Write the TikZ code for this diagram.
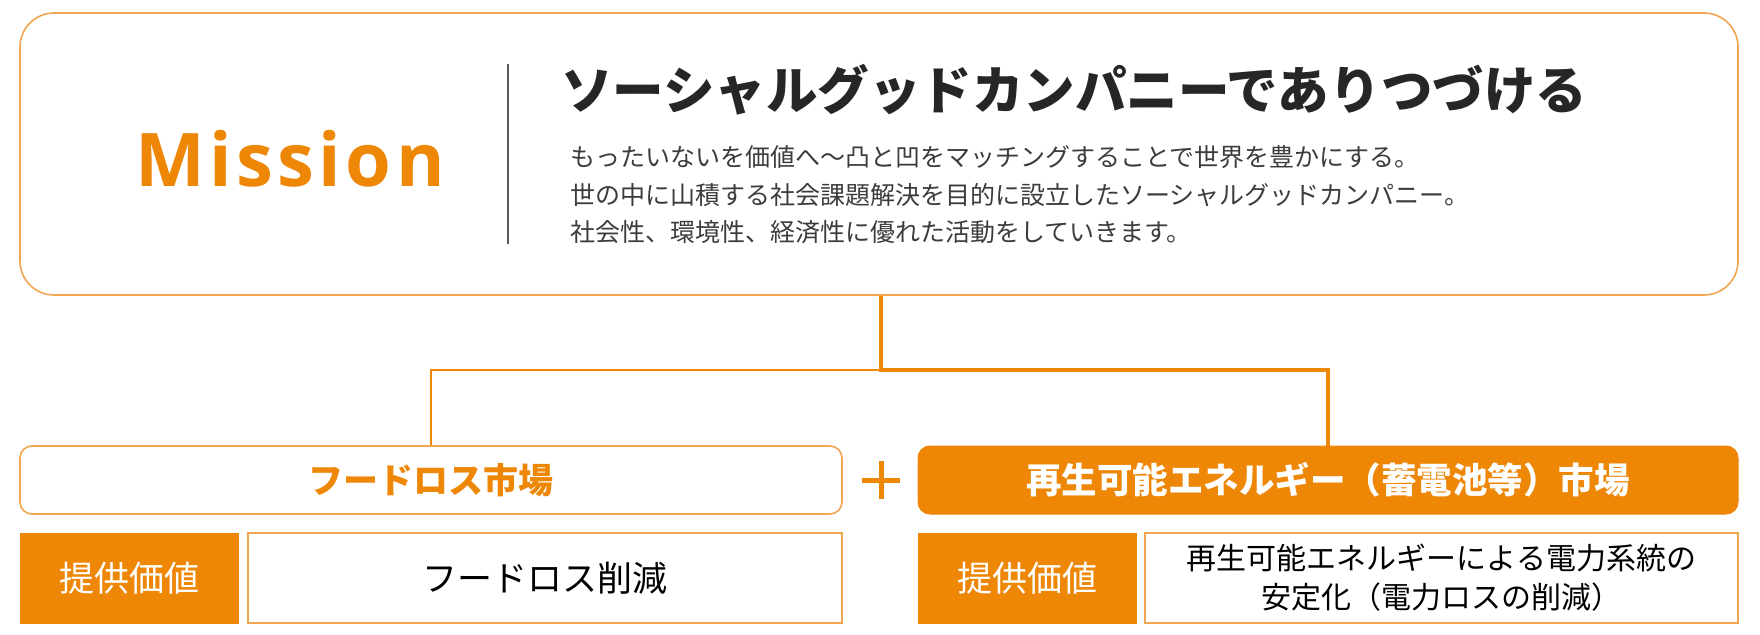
\documentclass[tikz,border=0pt]{standalone}
\usepackage{fontspec}
\newfontfamily\jp{Noto Sans CJK JP}
\newfontfamily\latinfont[LetterSpace=6]{Open Sans}
\definecolor{orng}{RGB}{238,134,6}
\definecolor{lorng}{RGB}{240,165,80}
\definecolor{headtxt}{RGB}{38,38,38}
\definecolor{bodytxt}{RGB}{60,60,60}
\definecolor{divgray}{RGB}{90,90,90}
\begin{document}
\begin{tikzpicture}[x=1pt,y=-1pt,
  box/.style={draw=lorng,line width=1.6pt,inner sep=0pt},
  fillbox/.style={fill=orng,draw=orng,line width=1pt,inner sep=0pt},
  thickline/.style={draw=orng,line width=4pt},
  thinline/.style={draw=orng,line width=1.6pt},
]
\useasboundingbox (0,0) rectangle (1760,634);
% top box
\node[box,rounded corners=34pt,minimum width=1718pt,minimum height=282pt] (top) at (879,154) {};
\node[text=orng,font=\latinfont\bfseries\fontsize{74}{80}\selectfont,anchor=base,inner sep=0pt] (mission) at (290,186) {Mission};
\coordinate (d1) at (508,64);
\coordinate (d2) at (508,244);
\draw[divgray,line width=1.6pt] (d1) -- (d2);
\node[text=headtxt,font=\jp\bfseries\fontsize{51.5}{60}\selectfont,anchor=west,inner sep=0pt] (head) at (561,90) {ソーシャルグッドカンパニーでありつづける};
\node[text=bodytxt,font=\jp\fontsize{25}{30}\selectfont,anchor=west,inner sep=0pt] (b1) at (570,157) {もったいないを価値へ～凸と凹をマッチングすることで世界を豊かにする。};
\node[text=bodytxt,font=\jp\fontsize{25}{30}\selectfont,anchor=west,inner sep=0pt] (b2) at (570,195) {世の中に山積する社会課題解決を目的に設立したソーシャルグッドカンパニー。};
\node[text=bodytxt,font=\jp\fontsize{25}{30}\selectfont,anchor=west,inner sep=0pt] (b3) at (570,232) {社会性、環境性、経済性に優れた活動をしていきます。};
% market boxes
\node[box,fill=white,rounded corners=12pt,minimum width=822pt,minimum height=68pt,text=orng,font=\jp\bfseries\fontsize{35}{40}\selectfont] (food) at (431,480) {フードロス市場};
\node[fillbox,rounded corners=12pt,minimum width=820pt,minimum height=68pt,text=white,font=\jp\bfseries\fontsize{35.5}{40}\selectfont] (energy) at (1328,480) {再生可能エネルギー（蓄電池等）市場};
% plus
\coordinate (plus) at (881,480);
\draw[orng,line width=5pt] ([xshift=-19pt]plus) -- ([xshift=19pt]plus);
\draw[orng,line width=5pt] ([yshift=-19pt]plus) -- ([yshift=19pt]plus);
% connectors
\coordinate (j) at (881,370);
\draw[thickline] (top.south -| j) -- (j) -| (energy.north);
\draw[thinline] (j) -| (food.north);
% value rows
\node[fillbox,minimum width=218pt,minimum height=90pt,text=white,font=\jp\fontsize{35}{40}\selectfont] (l1) at (129,578) {提供価値};
\node[box,minimum width=594pt,minimum height=90pt,text=black,font=\jp\fontsize{35}{40}\selectfont] (v1) at (545,578) {フードロス削減};
\node[fillbox,minimum width=218pt,minimum height=90pt,text=white,font=\jp\fontsize{35}{40}\selectfont] (l2) at (1027,578) {提供価値};
\node[box,minimum width=593pt,minimum height=90pt,text=black,font=\jp\fontsize{30}{39}\selectfont,align=center] (v2) at (1441.5,578) {再生可能エネルギーによる電力系統の\\安定化（電力ロスの削減）};
\end{tikzpicture}
\end{document}
